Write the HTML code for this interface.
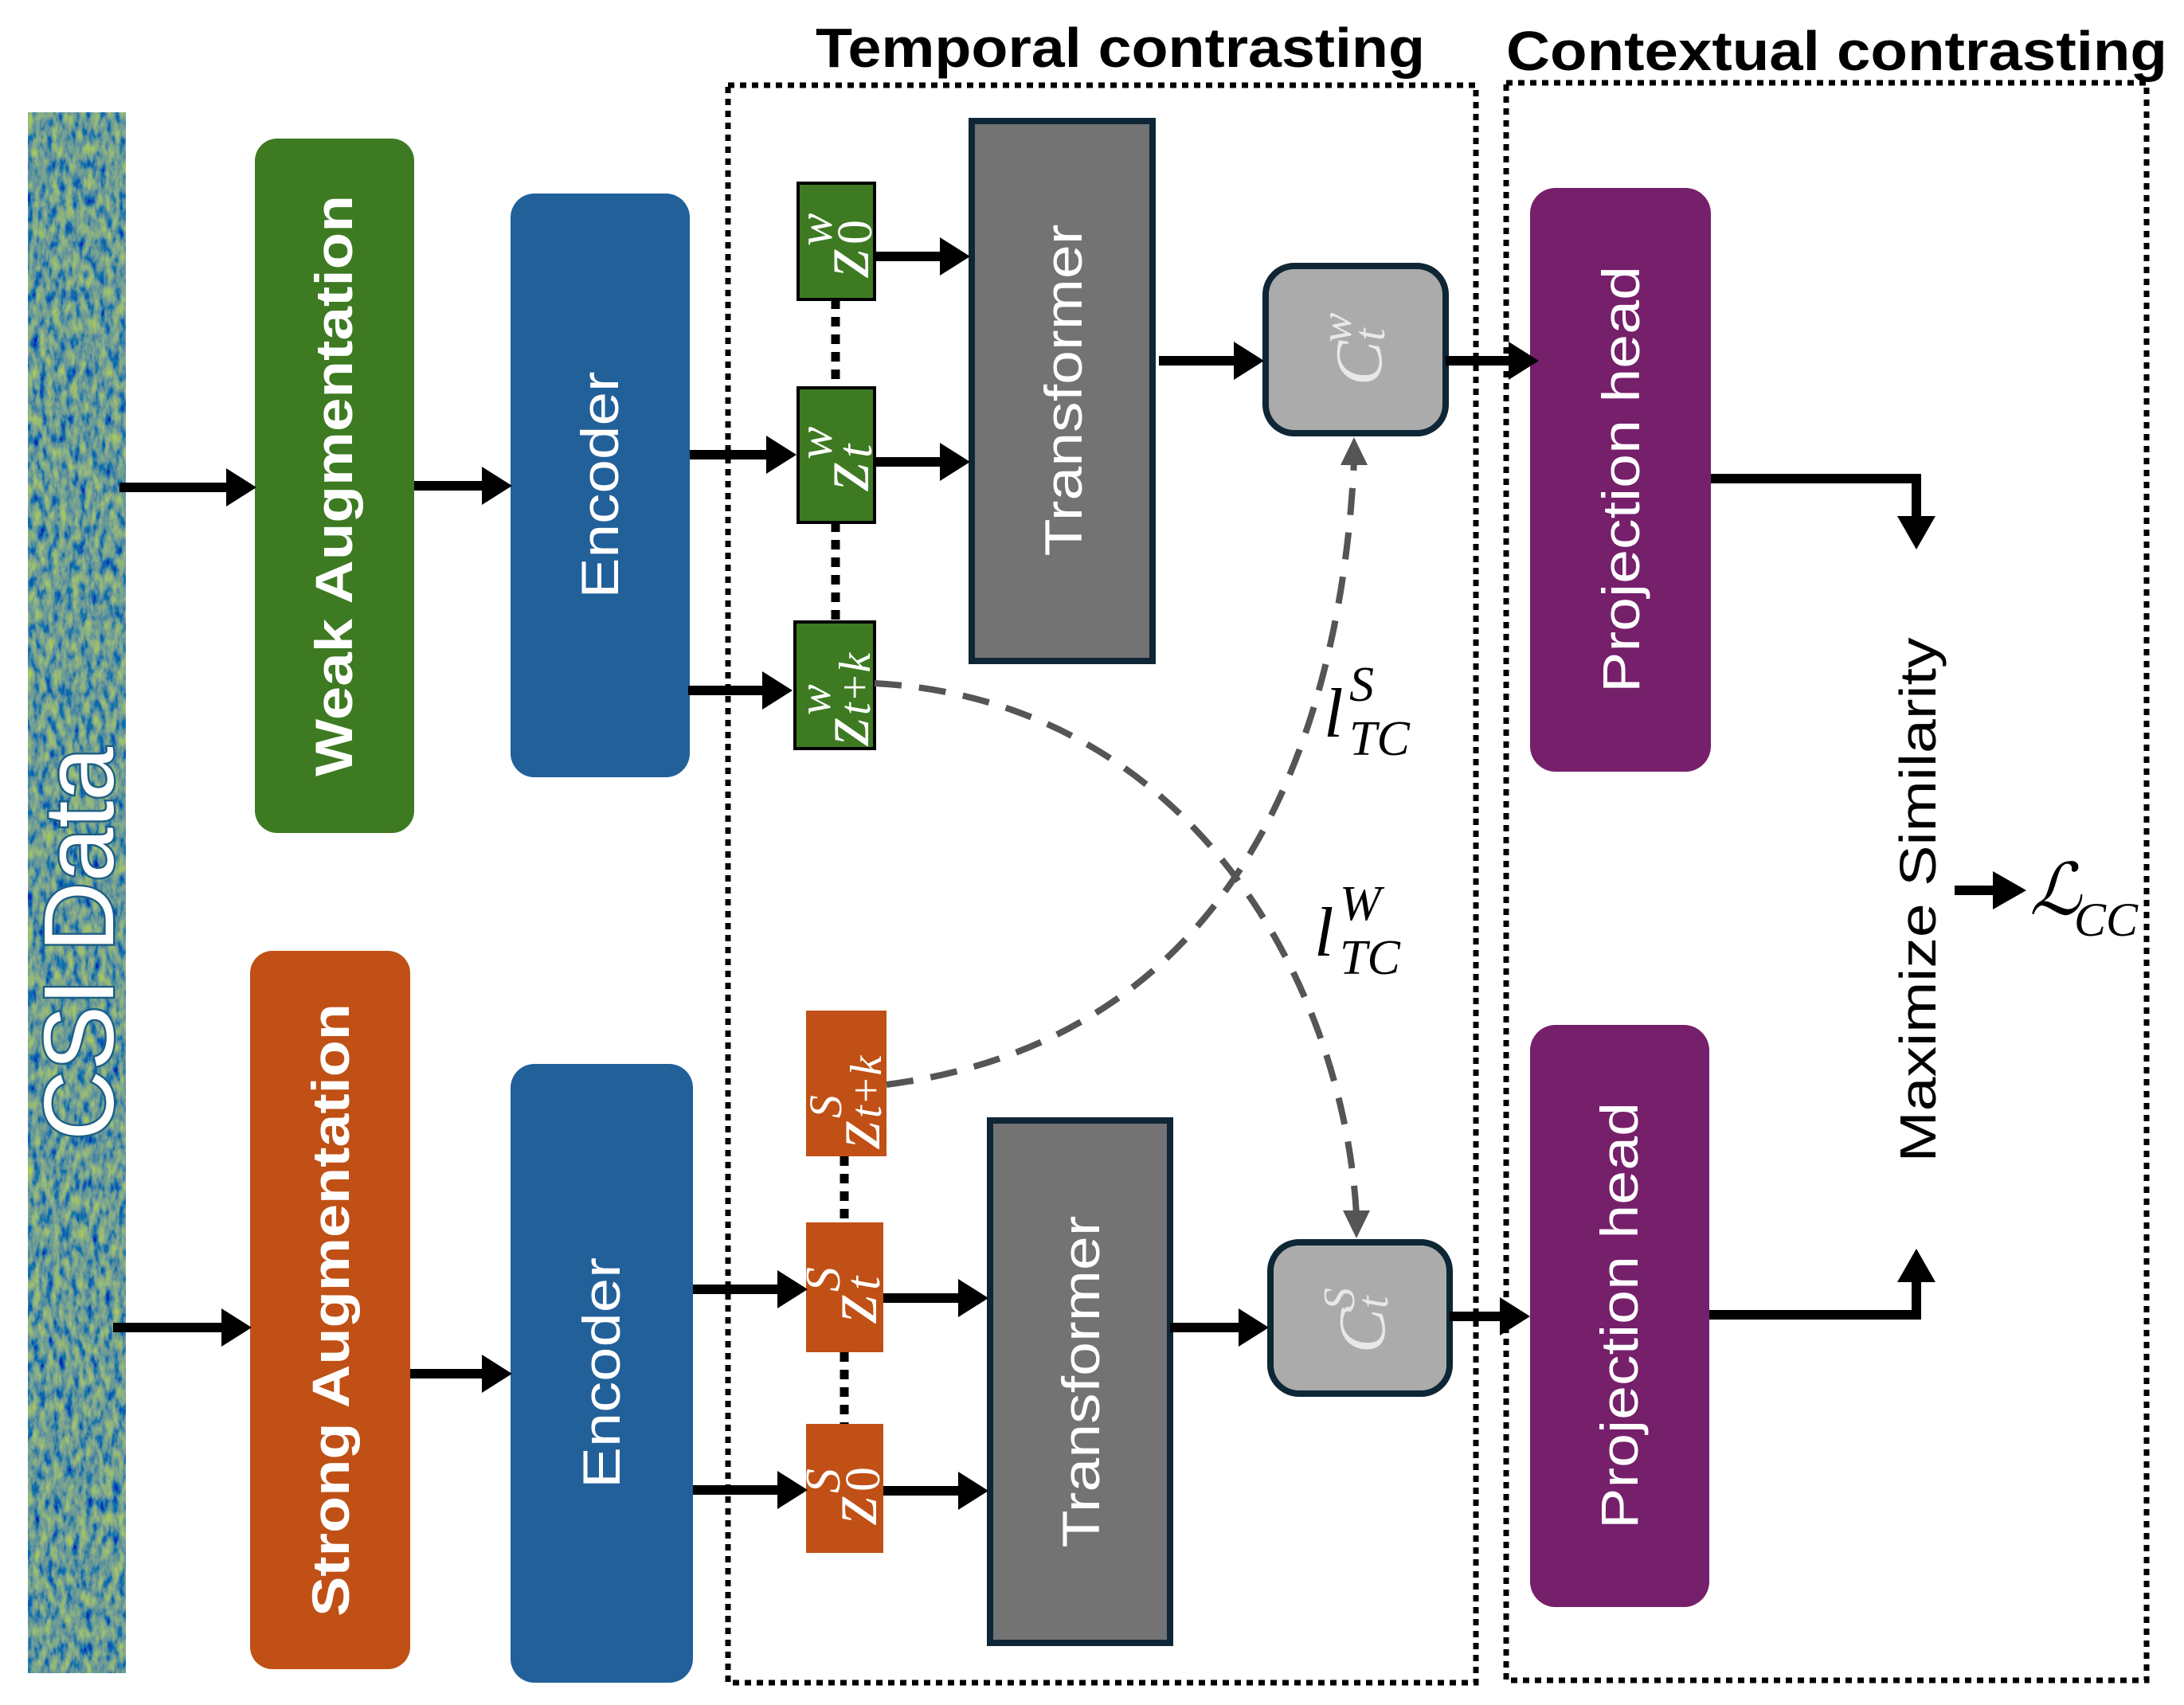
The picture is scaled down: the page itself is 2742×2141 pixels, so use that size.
<!DOCTYPE html>
<html><head><meta charset="utf-8"><style>
html,body{margin:0;padding:0;background:#fff;}
svg{display:block;}
</style></head><body>
<svg width="2742" height="2141" viewBox="0 0 2742 2141" xmlns="http://www.w3.org/2000/svg">
<defs>
<filter id="noise" x="0" y="0" width="100%" height="100%">
<feTurbulence type="fractalNoise" baseFrequency="0.12 0.05" numOctaves="3" seed="4" result="t"/>
<feColorMatrix in="t" type="matrix" values="0 1.2 0 0 -0.4  0 1.2 0 0 -0.2  0 -0.8 0 0 0.75  0 0 0 0 1"/>
</filter>
</defs>

<rect x="35" y="141" width="123" height="1960" fill="#3e6e7a"/>
<rect x="35" y="141" width="123" height="1960" filter="url(#noise)" opacity="0.75"/>
<text transform="translate(142,1185) rotate(-90)" text-anchor="middle" font-family="Liberation Sans, sans-serif" font-size="124" fill="#fff" stroke="#1d5f86" stroke-width="5" paint-order="stroke" textLength="494" lengthAdjust="spacingAndGlyphs">CSI Data</text>

<text x="1024" y="84" font-family="Liberation Sans, sans-serif" font-weight="bold" font-size="70" fill="#000" textLength="765" lengthAdjust="spacingAndGlyphs">Temporal contrasting</text>
<text x="1891" y="88" font-family="Liberation Sans, sans-serif" font-weight="bold" font-size="70" fill="#000" textLength="830" lengthAdjust="spacingAndGlyphs">Contextual contrasting</text>

<rect x="914" y="107" width="939" height="2006" fill="none" stroke="#000" stroke-width="7" stroke-dasharray="8 7"/>
<rect x="1891" y="104" width="804" height="2006" fill="none" stroke="#000" stroke-width="7" stroke-dasharray="8 7"/>

<rect x="320" y="174" width="200" height="872" rx="28" fill="#3d7a22"/>
<text transform="translate(442,610) rotate(-90)" text-anchor="middle" font-family="Liberation Sans, sans-serif" font-weight="bold" font-size="66" fill="#fff" textLength="730" lengthAdjust="spacingAndGlyphs">Weak Augmentation</text>
<rect x="314" y="1194" width="201" height="902" rx="28" fill="#c05015"/>
<text transform="translate(438,1645) rotate(-90)" text-anchor="middle" font-family="Liberation Sans, sans-serif" font-weight="bold" font-size="66" fill="#fff" textLength="770" lengthAdjust="spacingAndGlyphs">Strong Augmentation</text>

<rect x="641" y="243" width="225" height="733" rx="30" fill="#22609a"/>
<text transform="translate(776,609) rotate(-90)" text-anchor="middle" font-family="Liberation Sans, sans-serif" font-size="66" fill="#fff" textLength="285" lengthAdjust="spacingAndGlyphs">Encoder</text>
<rect x="641" y="1336" width="229" height="777" rx="30" fill="#22609a"/>
<text transform="translate(778,1724) rotate(-90)" text-anchor="middle" font-family="Liberation Sans, sans-serif" font-size="66" fill="#fff" textLength="290" lengthAdjust="spacingAndGlyphs">Encoder</text>

<line x1="1049" y1="376" x2="1049" y2="487" stroke="#000" stroke-width="11" stroke-dasharray="12 10"/>
<line x1="1049" y1="656" x2="1049" y2="781" stroke="#000" stroke-width="11" stroke-dasharray="12 10"/>
<line x1="1060" y1="1452" x2="1060" y2="1535" stroke="#000" stroke-width="11" stroke-dasharray="12 10"/>
<line x1="1060" y1="1698" x2="1060" y2="1788" stroke="#000" stroke-width="11" stroke-dasharray="12 10"/>

<g font-family="Liberation Serif, serif" font-style="italic" fill="#fff">
<rect x="1002" y="230" width="96" height="146" fill="#3d7a22" stroke="#000" stroke-width="4"/>
<g transform="translate(1050,303) rotate(-90)"><text x="-45" y="40" font-size="92">z</text><text x="-6" y="-6" font-size="62">w</text><text x="-4" y="44" font-size="62" font-style="normal">0</text></g>
<rect x="1002" y="487" width="96" height="169" fill="#3d7a22" stroke="#000" stroke-width="4"/>
<g transform="translate(1050,571) rotate(-90)"><text x="-45" y="40" font-size="92">z</text><text x="-6" y="-6" font-size="62">w</text><text x="-4" y="44" font-size="62">t</text></g>
<rect x="998" y="781" width="100" height="159" fill="#3d7a22" stroke="#000" stroke-width="4"/>
<g transform="translate(1048,860) rotate(-90)"><text x="-76" y="42" font-size="90">z</text><text x="-38" y="-6" font-size="58">w</text><text x="-38" y="44" font-size="56">t+k</text></g>

<rect x="1012" y="1269" width="101" height="183" fill="#c05015"/>
<g transform="translate(1062,1360) rotate(-90)"><text x="-82" y="42" font-size="90">z</text><text x="-44" y="-6" font-size="58">S</text><text x="-44" y="44" font-size="56">t+k</text></g>
<rect x="1012" y="1535" width="97" height="163" fill="#c05015"/>
<g transform="translate(1060,1616) rotate(-90)"><text x="-45" y="40" font-size="92">z</text><text x="-6" y="-6" font-size="62">S</text><text x="-4" y="44" font-size="62">t</text></g>
<rect x="1012" y="1788" width="97" height="162" fill="#c05015"/>
<g transform="translate(1060,1869) rotate(-90)"><text x="-45" y="40" font-size="92">z</text><text x="-6" y="-6" font-size="62">S</text><text x="-4" y="44" font-size="62" font-style="normal">0</text></g>
</g>

<rect x="1220" y="152" width="227" height="678" fill="#737373" stroke="#0e2636" stroke-width="8"/>
<text transform="translate(1358,490) rotate(-90)" text-anchor="middle" font-family="Liberation Sans, sans-serif" font-size="66" fill="#fff" textLength="417" lengthAdjust="spacingAndGlyphs">Transformer</text>
<rect x="1243" y="1407" width="226" height="656" fill="#737373" stroke="#0e2636" stroke-width="8"/>
<text transform="translate(1380,1735) rotate(-90)" text-anchor="middle" font-family="Liberation Sans, sans-serif" font-size="66" fill="#fff" textLength="417" lengthAdjust="spacingAndGlyphs">Transformer</text>

<rect x="1589" y="334" width="226" height="210" rx="36" fill="#ababab" stroke="#0e2636" stroke-width="8"/>
<g transform="translate(1702,440) rotate(-90)" font-family="Liberation Serif, serif" font-style="italic" fill="#e8e8e8"><text x="-44" y="32" font-size="84">C</text><text x="10" y="-6" font-size="56">w</text><text x="12" y="36" font-size="56">t</text></g>
<rect x="1595" y="1560" width="225" height="190" rx="36" fill="#ababab" stroke="#0e2636" stroke-width="8"/>
<g transform="translate(1706,1655) rotate(-90)" font-family="Liberation Serif, serif" font-style="italic" fill="#e8e8e8"><text x="-44" y="32" font-size="84">C</text><text x="10" y="-6" font-size="56">S</text><text x="12" y="36" font-size="56">t</text></g>

<rect x="1921" y="236" width="227" height="733" rx="32" fill="#761f6b"/>
<text transform="translate(2058,602) rotate(-90)" text-anchor="middle" font-family="Liberation Sans, sans-serif" font-size="66" fill="#fff" textLength="536" lengthAdjust="spacingAndGlyphs">Projection head</text>
<rect x="1921" y="1287" width="225" height="731" rx="32" fill="#761f6b"/>
<text transform="translate(2056,1652) rotate(-90)" text-anchor="middle" font-family="Liberation Sans, sans-serif" font-size="66" fill="#fff" textLength="536" lengthAdjust="spacingAndGlyphs">Projection head</text>

<text transform="translate(2430,1130) rotate(-90)" text-anchor="middle" font-family="Liberation Sans, sans-serif" font-size="64" fill="#000" textLength="659" lengthAdjust="spacingAndGlyphs">Maximize Similarity</text>

<g stroke="#000" stroke-width="12" fill="none">
<line x1="150" y1="612" x2="290" y2="612"/>
<line x1="520" y1="610" x2="608" y2="610"/>
<line x1="866" y1="571" x2="966" y2="571"/>
<line x1="864" y1="867" x2="962" y2="867"/>
<line x1="1098" y1="322" x2="1184" y2="322"/>
<line x1="1098" y1="580" x2="1184" y2="580"/>
<line x1="1455" y1="453" x2="1552" y2="453"/>
<line x1="1815" y1="453" x2="1898" y2="453"/>
<line x1="142" y1="1667" x2="282" y2="1667"/>
<line x1="515" y1="1725" x2="609" y2="1725"/>
<line x1="870" y1="1619" x2="980" y2="1619"/>
<line x1="870" y1="1871" x2="980" y2="1871"/>
<line x1="1109" y1="1630" x2="1207" y2="1630"/>
<line x1="1109" y1="1872" x2="1207" y2="1872"/>
<line x1="1469" y1="1667" x2="1559" y2="1667"/>
<line x1="1820" y1="1653" x2="1889" y2="1653"/>
<polyline points="2148,601 2406,601 2406,652"/>
<polyline points="2146,1651 2406,1651 2406,1604"/>
<line x1="2454" y1="1118" x2="2508" y2="1118"/>
</g>
<g fill="#000">
<polygon points="322,612 284,588 284,636"/>
<polygon points="643,610 605,586 605,634"/>
<polygon points="1000,571 962,547 962,595"/>
<polygon points="995,867 957,843 957,891"/>
<polygon points="1218,322 1180,298 1180,346"/>
<polygon points="1218,580 1180,556 1180,604"/>
<polygon points="1587,453 1549,429 1549,477"/>
<polygon points="1932,453 1894,429 1894,477"/>
<polygon points="316,1667 278,1643 278,1691"/>
<polygon points="643,1725 605,1701 605,1749"/>
<polygon points="1014,1619 976,1595 976,1643"/>
<polygon points="1014,1871 976,1847 976,1895"/>
<polygon points="1241,1630 1203,1606 1203,1654"/>
<polygon points="1241,1872 1203,1848 1203,1896"/>
<polygon points="1593,1667 1555,1643 1555,1691"/>
<polygon points="1921,1653 1883,1629 1883,1677"/>
<polygon points="2406,690 2382,648 2430,648"/>
<polygon points="2406,1568 2382,1610 2430,1610"/>
<polygon points="2544,1118 2502,1094 2502,1142"/>
</g>

<g stroke="#555" stroke-width="8" fill="none" stroke-dasharray="34 22">
<path d="M1098,858 C1492,879 1686,1231 1703,1525"/>
<path d="M1113,1362 C1580,1301 1686,879 1700,578"/>
</g>
<polygon points="1703,1555 1686,1520 1720,1520" fill="#555"/>
<polygon points="1700,549 1683,584 1717,584" fill="#555"/>

<g font-family="Liberation Serif, serif" font-style="italic" fill="#000">
<text x="1662" y="925" font-size="88">l</text><text x="1694" y="880" font-size="62">S</text><text x="1694" y="948" font-size="62">TC</text>
<text x="1650" y="1200" font-size="88">l</text><text x="1682" y="1155" font-size="62">W</text><text x="1682" y="1223" font-size="62">TC</text>
<text x="2548" y="1148" font-size="90">ℒ</text><text x="2604" y="1175" font-size="60">CC</text>
</g>
</svg>
</body></html>
